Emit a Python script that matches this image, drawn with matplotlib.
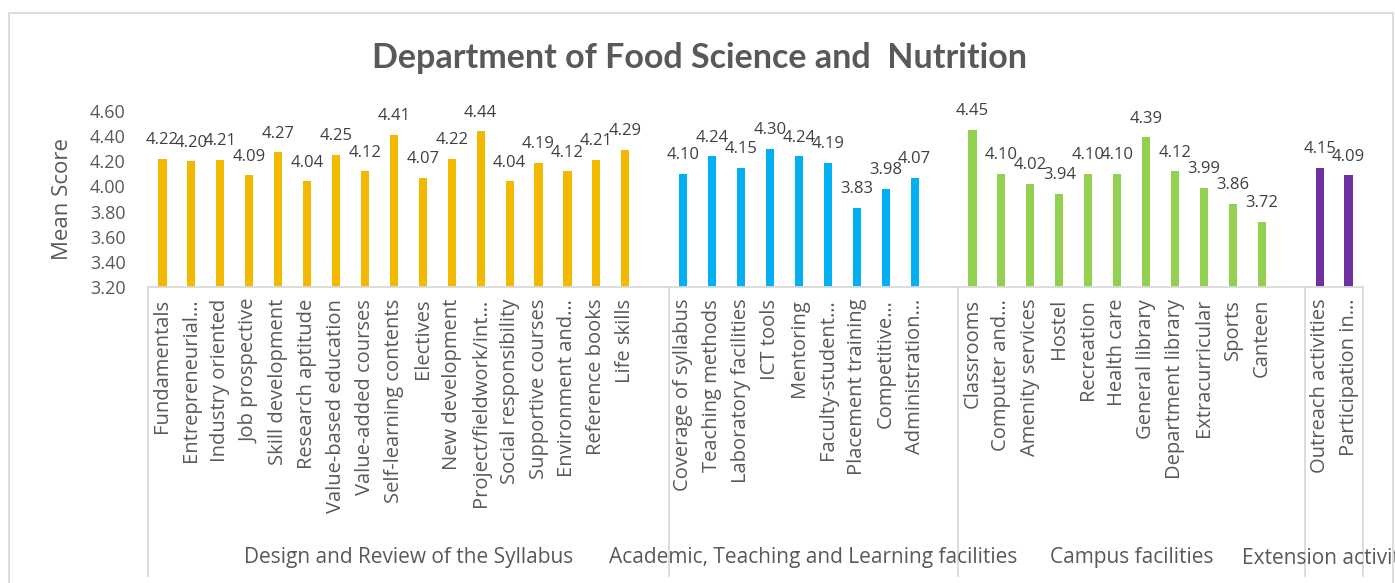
import matplotlib
matplotlib.use("Agg")
import matplotlib.pyplot as plt
from matplotlib.patches import Rectangle
from matplotlib.transforms import blended_transform_factory

# ---------------- data ----------------
groups = ["Design and Review of the Syllabus",
          "Academic, Teaching and Learning facilities",
          "Campus facilities",
          "Extension activities"]

syllabus_labels = ["Fundamentals", "Entrepreneurial…", "Industry oriented", "Job prospective",
                   "Skill development", "Research aptitude", "Value-based education",
                   "Value-added courses", "Self-learning contents", "Electives",
                   "New development", "Project/fieldwork/int…", "Social responsibility",
                   "Supportive courses", "Environment and…", "Reference books", "Life skills"]
syllabus_values = [4.22, 4.20, 4.21, 4.09, 4.27, 4.04, 4.25, 4.12, 4.41, 4.07,
                   4.22, 4.44, 4.04, 4.19, 4.12, 4.21, 4.29]

academic_labels = ["Coverage of syllabus", "Teaching methods", "Laboratory facilities",
                   "ICT tools", "Mentoring", "Faculty-student…", "Placement training",
                   "Competitive…", "Administration…"]
academic_values = [4.10, 4.24, 4.15, 4.30, 4.24, 4.19, 3.83, 3.98, 4.07]

campus_labels = ["Classrooms", "Computer and…", "Amenity services", "Hostel", "Recreation",
                 "Health care", "General library", "Department library", "Extracurricular",
                 "Sports", "Canteen"]
campus_values = [4.45, 4.10, 4.02, 3.94, 4.10, 4.10, 4.39, 4.12, 3.99, 3.86, 3.72]

extension_labels = ["Outreach activities", "Participation in…"]
extension_values = [4.15, 4.09]

colors = ["#F3B800", "#00B0F0", "#92D050", "#7030A0"]
yticks = [3.20, 3.40, 3.60, 3.80, 4.00, 4.20, 4.40, 4.60]

# ---------------- figure ----------------
W, H = 1395, 583
fig = plt.figure(figsize=(W / 100, H / 100), dpi=100)
fig.patch.set_facecolor("white")

FONT = ["Open Sans", "DejaVu Sans"]
GRAY = "#595959"
DARK = "#404040"
LINE = "#D9D9D9"

# outer chart border
fig.patches.append(Rectangle((9 / W, -0.05), (1393 - 9) / W, 1.05 - 13 / H,
                             transform=fig.transFigure, fill=False,
                             edgecolor=LINE, linewidth=1.3))

ax_left, ax_right = 148 / W, 1363 / W
ax_bottom, ax_top = 1 - 287 / H, 1 - 111 / H
ax = fig.add_axes([ax_left, ax_bottom, ax_right - ax_left, ax_top - ax_bottom])

all_sets = [(syllabus_labels, syllabus_values),
            (academic_labels, academic_values),
            (campus_labels, campus_values),
            (extension_labels, extension_values)]

positions, tick_labels = [], []
group_bounds = []
slot = 0
for gi, (labs, vals) in enumerate(all_sets):
    start = slot
    xs = list(range(slot, slot + len(labs)))
    ax.bar(xs, vals, width=0.28, color=colors[gi], zorder=2)
    for x, v in zip(xs, vals):
        ax.annotate(f"{v:.2f}", xy=(x, v), xytext=(0, 10.5), textcoords="offset points",
                    ha="center", va="baseline", fontsize=12, color=DARK,
                    family=FONT, annotation_clip=False)
    positions += xs
    tick_labels += labs
    slot += len(labs)
    if gi < len(all_sets) - 1:
        slot += 1  # empty category after each group
    group_bounds.append((start - 0.5, slot - 0.5))

ax.set_xlim(-0.5, slot - 0.5)
ax.set_ylim(3.2, 4.6)
ax.set_yticks(yticks)
ax.set_yticklabels([f"{t:.2f}" for t in yticks], fontsize=13, color=GRAY, family=FONT)
ax.set_xticks(positions)
ax.set_xticklabels(tick_labels, rotation=90, fontsize=14.5, color=GRAY, family=FONT)
ax.tick_params(axis="x", length=0, pad=8.5)
ax.tick_params(axis="y", length=0, pad=16)
ax.set_ylabel("Mean Score", fontsize=16, color=GRAY, family=FONT, labelpad=12)

for s in ["top", "right", "left"]:
    ax.spines[s].set_visible(False)
ax.spines["bottom"].set_color(LINE)
ax.spines["bottom"].set_linewidth(1.3)

# multi-level category separators and group labels
trans = blended_transform_factory(ax.transData, ax.transAxes)
ax_h = 287 - 111
y_bottom = (287 - 576) / ax_h
y_group = (287 - 558) / ax_h
edges = sorted(set([b for gb in group_bounds for b in gb]))
for e in edges:
    ax.plot([e, e], [0, y_bottom], transform=trans, color=LINE, linewidth=1.3,
            clip_on=False, zorder=1)
for (a, b), g in zip(group_bounds, groups):
    ax.text((a + b) / 2, y_group, g, transform=trans, ha="center", va="center",
            fontsize=15, color=GRAY, family=FONT, clip_on=False)

fig.text(700 / W, 1 - 58 / H, "Department of Food Science and  Nutrition",
         ha="center", va="center", fontsize=24.5, fontweight="bold", color=GRAY,
         family=["Lato", "DejaVu Sans"])

fig.savefig("out.png", dpi=100, facecolor="white")
